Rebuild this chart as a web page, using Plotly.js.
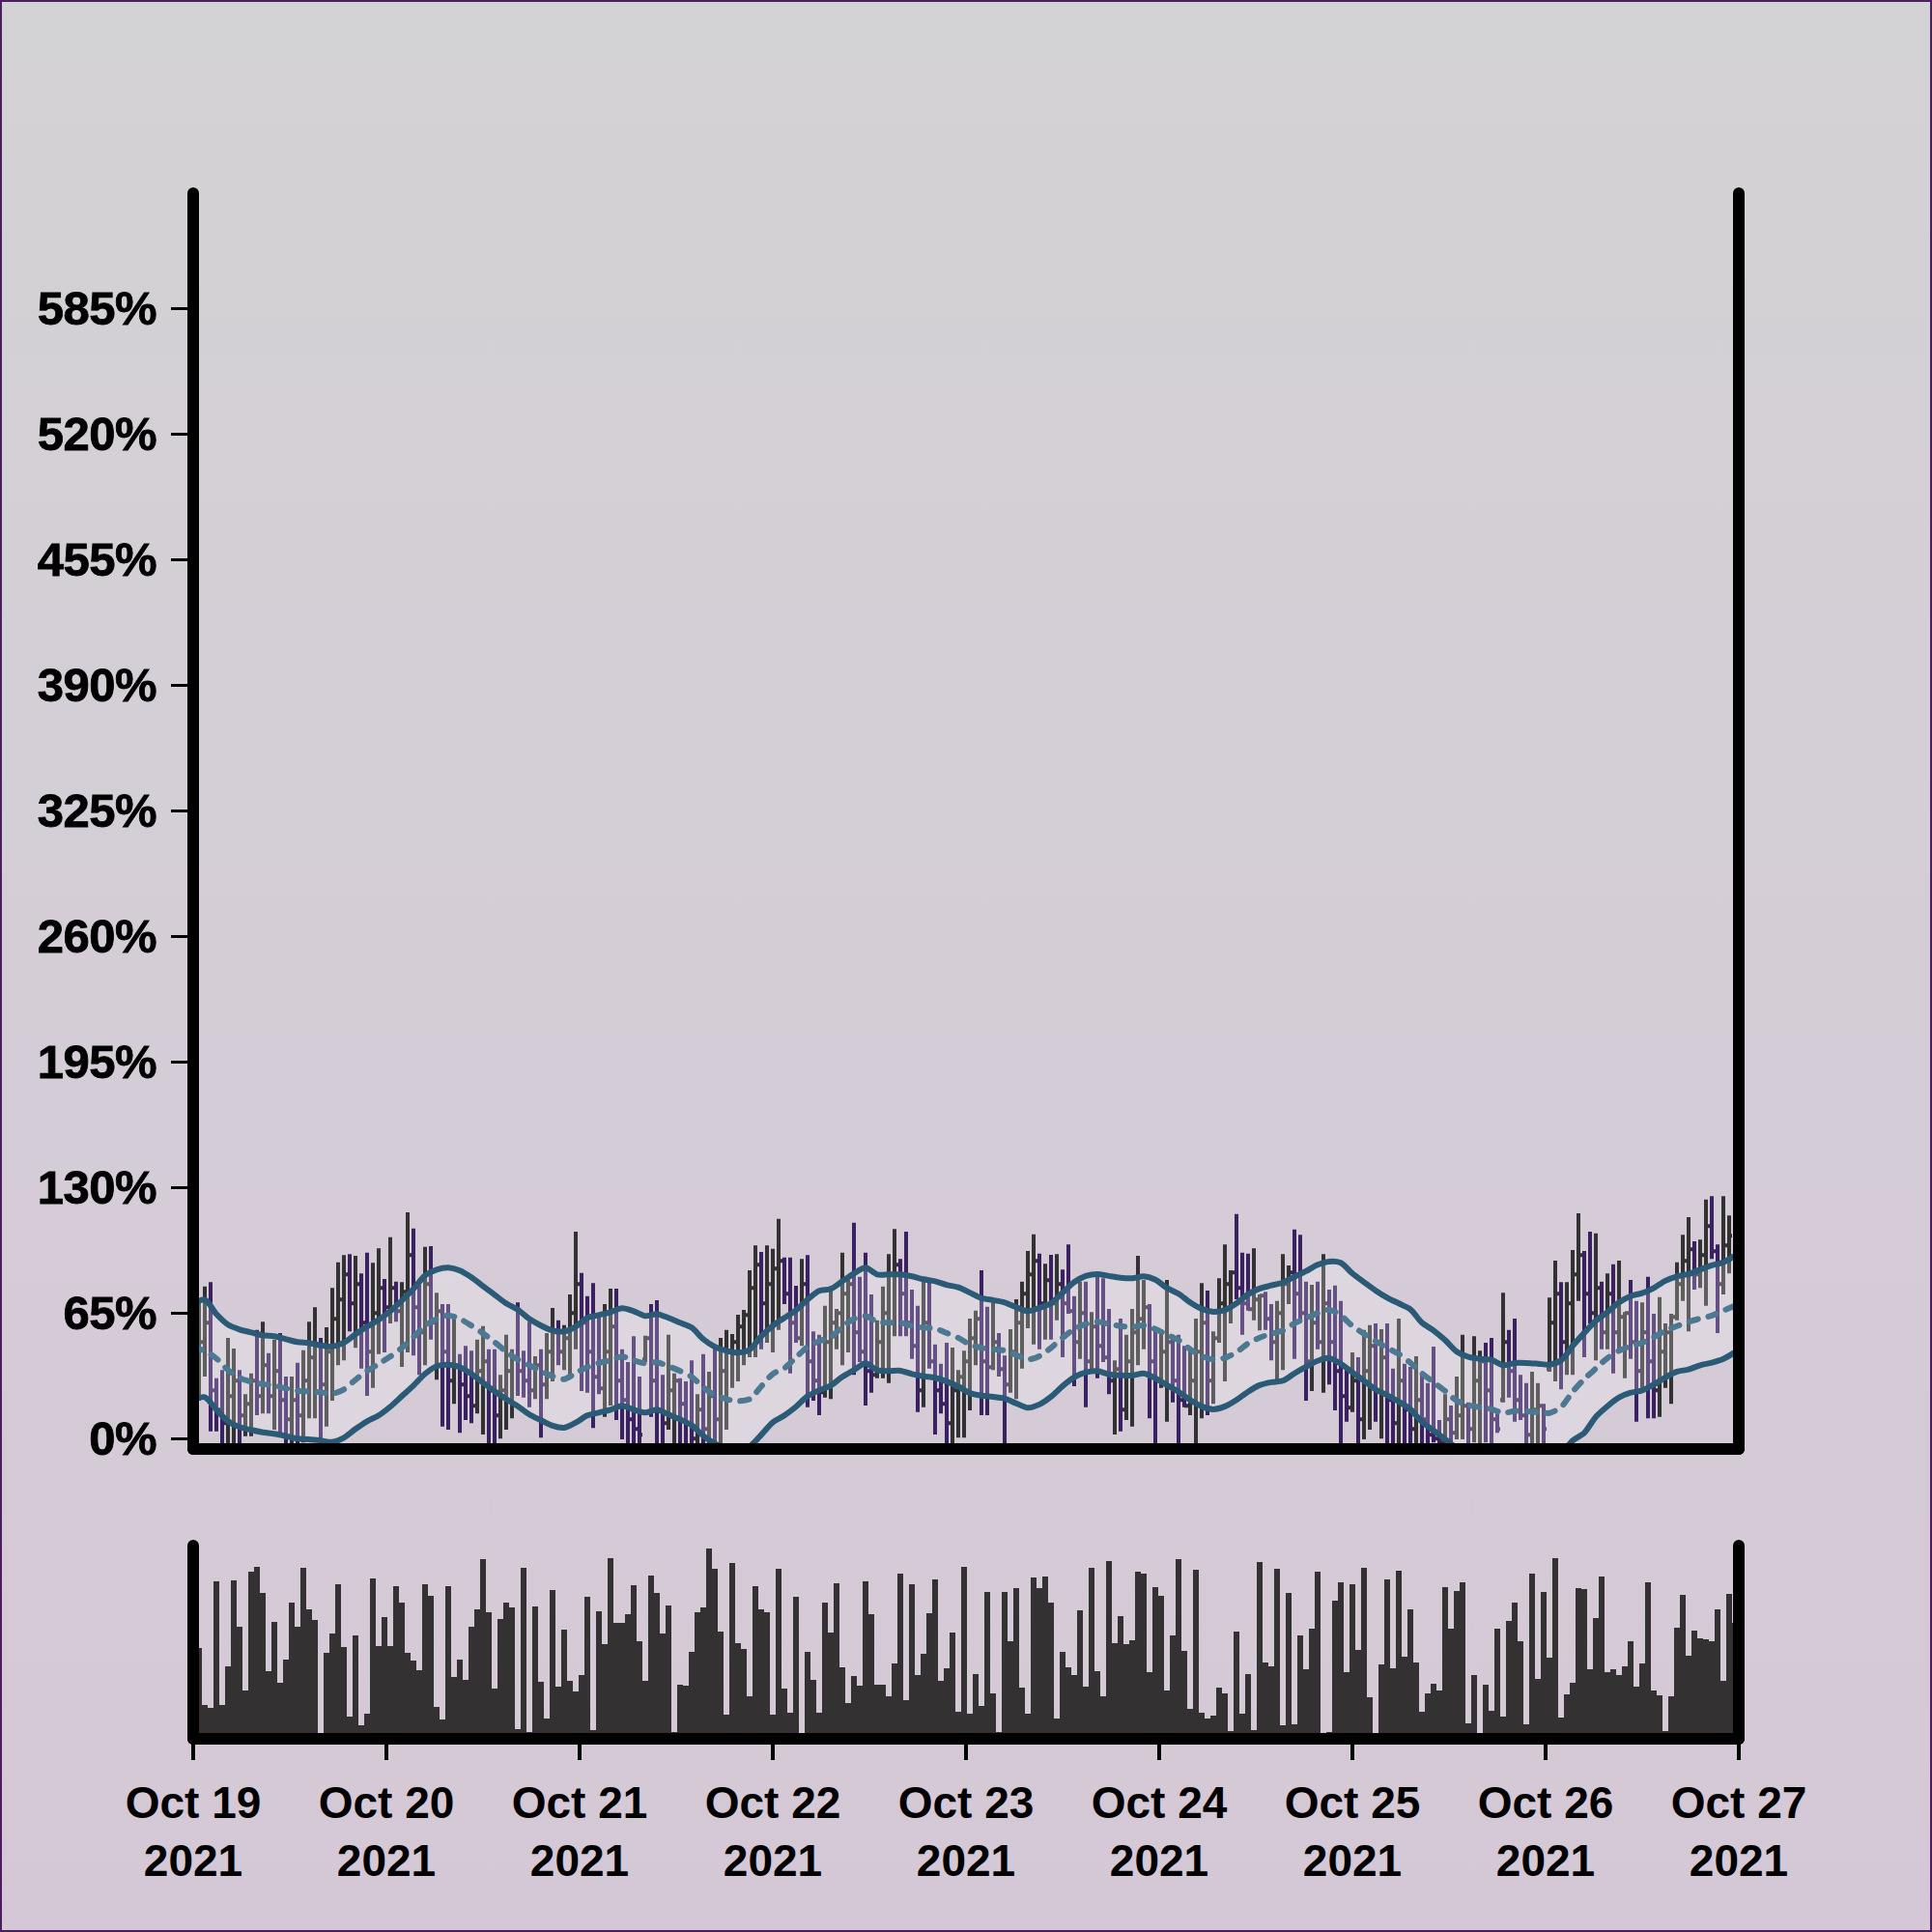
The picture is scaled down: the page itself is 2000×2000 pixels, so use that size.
<!DOCTYPE html>
<html>
<head>
<meta charset="utf-8">
<script src="https://cdn.plot.ly/plotly-3.0.1.min.js"></script>
<style>
  html, body { margin: 0; padding: 0; }
  body { width: 2000px; height: 2000px; background: linear-gradient(to bottom, #d3d2d4 0%, #d4cdd6 50%, #d5c8d6 100%); }
  #chart { width: 2000px; height: 2000px; }
  #frame { position: absolute; left: 0; top: 0; width: 2000px; height: 2000px; box-sizing: border-box; border: 2px solid #4b1f5e; pointer-events: none; }
  .shapelayer path { stroke-linecap: round; }
  .scatterlayer .js-line { stroke-linecap: round; }
  .xtick text, .ytick text { letter-spacing: -0.5px; stroke: #000; stroke-width: 0.8px; }
</style>
</head>
<body>
<div id="chart"></div>
<div id="frame"></div>
<script>
// ---- data ----
const startTime = '2021-10-19T00:00:00Z';
const stepMinutes = 43.2;       // bar spacing
const barCount = 267;

const openVals = [
42,40,50,60,25,15,8,22,30,12, 18,30,22,38,22,35,20,10,20,12,
30,42,48,28,45,62,72,85,70,80, 60,45,65,78,68,78,66,76,95,68,
55,80,60,66,45,30,38,28,22,17, 35,40,25,12,25,35,42,35,30,25,
38,28,45,55,45,52,65,80,60,45, 32,26,45,58,30,20,10,5,41,52,
30,15,8,25,30,18,8,0,15,5, 22,10,35,45,50,58,64,78,90,70,
80,88,92,75,60,52,80,40,30,24, 50,60,65,75,80,55,45,35,33,50,
65,85,90,75,60,48,25,60,40,25, 18,8,25,32,40,52,62,40,37,50,
36,28,45,60,75,85,92,70,82,70, 80,70,66,50,65,40,58,48,42,30,
36,15,40,55,62,68,40,30,45,50, 30,20,17,30,45,60,30,52,70,80,
86,78,70,67,72,74,62,50,65,80, 86,75,65,40,60,50,70,50,35,22,
16,30,10,35,48,25,42,20,8,30, 15,5,20,10,2,0,-2,10,3,12,
17,5,30,40,25,10,20,50,35,20, 12,2,15,17,36,60,75,50,70,85,
95,75,65,78,55,75,55,63,65,50, 35,55,40,25,45,55,63,80,92,98,
85,95,110,97,80,100,94];
const highVals = [
70,71.3,78.8,81,31.3,35.5,52.2,46.6,35.5,23, 33.8,56.3,60.5,44.3,51.3,54.6,32.2,32.2,39.3,45.8,
60.5,68,52.2,57.6,78,91.3,95,95.5,94.6,85.5, 96.3,91,98.5,82.6,104.3,81.3,81,117.2,108.8,79.6,
99.3,99.6,75.5,69.6,69.6,62.2,43.8,48,45.5,51.3, 58.3,46.3,46.3,33,53.8,46.3,70.5,45.5,60.5,42.6,
46.3,54.6,67.6,61.3,58.8,74.7,107.2,85.8,73.8,80.5, 64.7,69.7,77.7,77.7,46.3,39.7,53,32.2,53.3,69.7,
71.7,33,53.8,33.8,31.3,29.7,40.5,23,43.8,34.7, 46.3,52.2,56.3,54.2,64.2,66.7,87.2,100,96.7,100,
98.3,113.8,93.8,93.8,79.2,93,95,55.5,53.8,68.8, 78.8,67.2,96.3,82.2,111.8,83.8,96.3,74.7,61.3,78.8,
95.5,108.5,93,107.2,77.2,68.8,81.3,81.3,48.8,38.8, 49.7,47.2,35.5,45.5,62.2,66.3,87.2,68.3,70.5,54.7,
43,56.7,72.2,81.3,97.2,105.8,95.8,90.5,95.2,95.5, 87.5,100.5,73.8,81.3,81.3,65.5,86.3,83,67.2,40.5,
62.2,53.8,67.2,94.7,82.2,69.7,57.2,56.3,82.2,53.8, 53.8,48,45.5,62.2,80.5,76.7,55.5,83,100.5,87.2,
116.3,96.3,95.8,98.5,74.7,76,69.7,71.3,95.5,89.7, 108.3,105.5,81.3,79.7,81.3,95.5,77.2,79.3,71.3,37.2,
44.7,42.2,56.3,58.8,59.7,56.7,59.7,36.3,62.2,38.8, 37.2,42.7,33,28.8,47.7,9.7,23,17.2,32.2,53.8,
18.8,53,45.5,49.7,52.2,13,75.5,56.3,62.2,33, 28.8,34.7,28.8,18,73,92.2,81,81,97.7,116.7,
97.2,107.2,106.3,81.3,85.5,90.3,92.2,65.5,82.2,71.3, 70.5,83.8,64.7,73.3,59.7,64.7,91.3,105.5,114.7,102.2,
103,123.8,125.5,100.5,125.5,115.5,94.7];
const lowVals = [
20,19.6,32.2,3.8,3.8,-5,-5,-6,-3,1.3, 1.3,12.2,13,13,4.6,3,-4,-3,-5,-2,
10.5,10.5,-0.3,6.3,19.6,38,40.5,55.5,47,36.3, 22.2,26.3,43.8,44.6,59.6,60.5,37.2,44.6,43,33,
38,51.3,30.5,6.3,4.6,18,3,9.6,8,13, 2.2,-4,-3,0,4.6,10.5,22.2,21.3,16.3,20.5,
0.5,20.5,29.6,38,35.5,31.3,46.3,24.7,23.8,5.5, 23,11.3,17.2,9.7,-0.3,-4,-5,-3,39.7,11.3,
-4,-6,4.7,-5,-6,-4,-8,-3,-6,-4, -3,-5,4.7,26.3,29.7,38,42.2,42.2,46.3,49.7,
44.7,56.3,69.7,33.8,49.7,48,16.3,19.7,12.2,21.3, 20.5,46.3,38,44.7,33,39.7,17.2,23.8,31.3,31.3,
28.8,53,53,53,41.3,13.8,16.3,36.3,2.2,13, -4,-4,0.5,0.5,14.7,38,12.2,12.2,35.5,32.2,
-3,23.8,20.5,36.3,57.2,48.8,46.3,51.3,51.3,61.3, 42.2,64.7,27.2,41.3,16.3,34.7,31.3,39.7,23,2.2,
3.8,9.7,6.3,38,46.3,10.5,-6,26.3,8.8,18.8, -5,16.3,12.2,-4,10.5,12.2,18,49.7,29.7,59.7,
72.2,53.8,66.3,61.3,56,56.3,40.5,30.5,35.5,69.7, 41.3,61.3,19.7,24.7,46.3,23.8,28,14.7,-4,8.8,
13.8,-4,-0.3,4.7,8.8,0,-3,-5,-6,-4, -5,-3,-4,-3,-2,-4,-3,-2,-0.3,-0.3,
-4,-2,-3,-2,-3,3,18.8,21.3,8.8,9.7, -3,-4,-4,-3,34.7,29.7,25.5,33,33,71.3,
42.2,59.7,40.5,46.3,46.3,33.8,45.5,31.3,41.3,8.8, 26.3,10.5,10.5,11.3,26.3,18,61.3,71.3,55.5,77.2,
78,68.8,93,54.7,74.7,85.5,26.3];
const closeVals = [
40,50,60,25,15,8,22,30,12,18, 30,22,38,22,35,20,10,20,12,30,
42,48,28,45,62,72,85,70,80,60, 45,65,78,68,78,66,76,95,68,55,
80,60,66,45,30,38,28,22,17,35, 40,25,12,25,35,42,35,30,25,38,
28,45,55,45,52,65,80,60,45,32, 26,45,58,30,20,10,5,2,52,30,
15,8,25,30,18,8,0,15,5,22, 10,35,45,50,58,64,78,90,70,80,
88,92,75,60,52,80,40,30,24,50, 60,65,75,80,55,45,35,33,50,65,
85,90,75,60,48,25,60,40,25,18, 8,25,32,40,52,62,40,37,50,36,
28,45,60,75,85,92,70,82,70,80, 70,66,50,65,40,58,48,42,30,36,
15,40,55,62,68,40,30,45,50,30, 20,17,30,45,60,30,52,70,80,86,
78,70,67,72,74,62,50,65,80,86, 75,65,40,60,50,70,50,35,22,16,
30,10,35,48,25,42,20,8,30,15, 5,20,10,2,0,-2,10,3,12,17,
5,30,40,25,10,5,50,35,20,12, 2,15,17,5,60,75,50,70,85,95,
75,65,78,55,75,55,63,65,50,35, 55,40,25,45,55,63,80,92,98,85,
95,110,97,80,100,105,60];
const volumeVals = [
100,94,35,32,163,35,75,164,116,50, 173,178,151,70,121,58,82,141,116,177,
134,123,2,89,109,160,95,23,107,14, 26,166,96,126,96,158,141,89,81,71,
160,148,33,20,158,64,82,61,116,134, 186,131,52,124,141,136,10,177,7,137,
59,21,154,54,113,60,49,66,147,9, 132,98,187,120,120,129,159,101,60,169,
151,109,138,7,56,55,90,131,136,197, 176,111,25,182,99,93,44,158,134,131,
25,176,52,27,147,2,90,61,27,141, 110,161,74,37,65,55,163,129,56,56,
44,78,171,40,160,66,88,130,165,60, 73,110,28,178,26,67,34,152,47,7,
152,101,156,53,26,167,156,168,141,21, 90,74,66,133,54,177,70,44,184,99,
127,98,102,173,171,69,157,148,50,107, 186,91,31,175,27,21,24,53,47,8,
111,26,67,9,183,79,75,176,14,151, 15,107,72,114,173,2,7,143,162,69,
160,92,177,43,2,77,165,73,174,85, 134,79,28,47,57,50,157,114,153,162,
16,66,2,56,29,114,23,122,141,101, 15,171,62,152,84,187,22,46,58,156,
155,72,125,168,69,72,66,75,101,54, 78,162,50,45,8,44,115,149,86,112,
104,103,101,134,60,150,120];

// Bollinger band, read every second bar
const bandUpper = [
69.6,72,64.5,59,56.5,55,53.5,53,51.5,50, 49.5,48.3,47.7,49.7,54,58,61.5,66,71.5,77.5,
84.5,87.5,88.5,87,83.5,79,74.5,70,66.8,62, 58.5,56,55.5,58,62.5,64,65.5,67.5,66,63.5,
64.5,62.5,60,57.5,51.5,47.5,45.5,44.5,46,53, 58.5,62.5,66.5,72,76.5,77.5,81.5,85.5,88.5,85,
85,85,84,82.5,81.5,79.6,78.3,75.6,72.7,71.7, 70.5,68,66,67.7,70,75.5,81,84.2,85.2,84.2,
83.3,83,84,82.3,78,75,70.5,67.2,65.7,66.6, 70,74.7,77.7,79.3,80.8,83.8,86.7,90,91.7,91,
85.5,81,76.7,73,70,67,60,56,51,45, 42.3,41.3,40.8,38,39.2,39.2,38.8,38.3,40.5,48,
54.7,61,65.5,70.5,73.8,75.3,78,81.7,84,85.2, 87.5,89.7,91.3,94.7];
const bandMid = [
47,45.5,41.5,35.5,31.5,29.5,28.2,27.5,26,24.8, 24.4,24,23.3,25.5,30.5,35,38.7,42.5,47,52.5,
58.5,62,63.8,62,58.5,54.5,50,45,41,38, 35,32.3,30.8,34,37,39.2,40.5,42.5,40.5,39,
39.5,37.5,35,32,26.5,22.5,20.5,19.5,20.5,27, 33.5,36.5,42,47.5,50.5,52.5,58,62,63.5,60.5,
60,60,58.5,57.5,57,54.7,52.2,48.7,47,46.3, 45.6,43.3,41,42.7,47,52.2,56.7,59.3,60.5,59.3,
58.3,57.7,58.7,56.7,53.8,51,46.3,42.7,41,41.8, 44.7,49.3,52.3,54.3,56,59.7,62.3,65,66.7,63.8,
58.3,54.3,50.5,47,43.8,39.3,33.8,29.2,24.7,19.7, 17.3,16.3,15.3,13.3,14.3,14.2,13.7,13.3,16.3,24.3,
30.8,36.3,41.7,45.5,48,49.7,52.5,56,58.3,60.5, 62.2,63.7,66.3,68.8];
const bandLower = [
20,21.5,15,9,6,4.5,3.3,2.5,1.3,0, -0.3,-1,-1.7,0.5,5,9,12,16.5,22,27.5,
33.5,37.5,38.3,37,33.5,29,24.5,20.5,16.8,12.5, 9.5,6.7,5.7,8.3,12,13.5,15,17,15,13.5,
15,12.5,10,7,1.5,-2.5,-5,-6,-4,2, 8.5,12,16.5,22,25,27.5,32,35.5,39,35.5,
35,35.2,33.5,32.3,31.5,29.6,27,23.6,22.3,21.7, 20.8,18.3,16,17.7,21.7,27.2,31.8,34.3,35,33.3,
32.8,32.7,33.8,31.3,27.7,24.3,20,16.7,15.2,16.7, 20,24.3,27.7,29.2,30,33.8,37.2,40.3,41.7,38.8,
34.3,30,25.5,22.5,19.2,15.2,8.8,4.2,-0.3,-5, -8,-9,-10,-12,-11,-11,-11.5,-12,-8,-1,
3,11.3,16.8,21.3,23.8,25,28,31.7,34.7,35.8, 38,39.3,41.3,44.7];

const yTickStep = 65;

// ---- build ----
const t0 = new Date(startTime).getTime();
function fmt(ms) { return new Date(ms).toISOString().slice(0, 19).replace('T', ' '); }
const dates = [];
for (let i = 0; i < barCount; i++) dates.push(fmt(t0 + i * stepMinutes * 60000));
const bandDates = dates.filter((d, i) => i % 2 === 0);

const incColor = '#323232';
const decColor = '#3a2160';
const bandColor = '#2b5a76';
const midColor = '#4d7891';

const traces = [
  {
    type: 'ohlc', x: dates, open: openVals, high: highVals, low: lowVals, close: closeVals,
    xaxis: 'x', yaxis: 'y', tickwidth: 0.5, hoverinfo: 'skip',
    increasing: { line: { color: incColor, width: 4 } },
    decreasing: { line: { color: decColor, width: 4 } }
  },
  {
    type: 'scatter', mode: 'lines', x: bandDates, y: bandUpper, xaxis: 'x', yaxis: 'y',
    line: { color: bandColor, width: 6, shape: 'spline', smoothing: 0.8 }, hoverinfo: 'skip'
  },
  {
    type: 'scatter', mode: 'lines', x: bandDates, y: bandLower, xaxis: 'x', yaxis: 'y',
    fill: 'tonexty', fillcolor: 'rgba(255,255,255,0.22)',
    line: { color: bandColor, width: 6, shape: 'spline', smoothing: 0.8 }, hoverinfo: 'skip'
  },
  {
    type: 'scatter', mode: 'lines', x: bandDates, y: bandMid, xaxis: 'x', yaxis: 'y',
    line: { color: midColor, width: 6, dash: '9px,11px', shape: 'spline', smoothing: 0.8 }, hoverinfo: 'skip'
  },
  {
    type: 'bar', x: dates, y: volumeVals, xaxis: 'x2', yaxis: 'y2',
    marker: { color: '#333132', line: { width: 0 } }, hoverinfo: 'skip'
  }
];

const xFont = { family: 'Liberation Sans, Arial, sans-serif', size: 46, color: '#000', weight: 'bold' };
const yFont = { family: 'Liberation Sans, Arial, sans-serif', size: 49, color: '#000', weight: 'bold' };
const xRange = ['2021-10-19 00:00:00', '2021-10-27 00:00:00'];

const frame = { type: 'line', xref: 'paper', yref: 'paper', layer: 'above', line: { color: '#000', width: 12 } };
const shapes = [
  Object.assign({}, frame, { x0: 0, x1: 0, y0: 0.1875, y1: 1 }),
  Object.assign({}, frame, { x0: 1, x1: 1, y0: 0.1875, y1: 1 }),
  Object.assign({}, frame, { x0: 0, x1: 1, y0: 0.1875, y1: 0.1875 }),
  Object.assign({}, frame, { x0: 0, x1: 0, y0: 0, y1: 0.125 }),
  Object.assign({}, frame, { x0: 1, x1: 1, y0: 0, y1: 0.125 }),
  Object.assign({}, frame, { x0: 0, x1: 1, y0: 0, y1: 0 })
];

const layout = {
  width: 2000, height: 2000,
  margin: { l: 200, r: 200, t: 200, b: 200 },
  paper_bgcolor: 'rgba(0,0,0,0)', plot_bgcolor: 'rgba(0,0,0,0)',
  showlegend: false, bargap: 0,
  shapes: shapes,
  xaxis: {
    domain: [0, 1], anchor: 'y', type: 'date', range: xRange,
    rangeslider: { visible: false },
    showline: false, showgrid: false, zeroline: false, ticks: '', showticklabels: false
  },
  yaxis: {
    domain: [0.1875, 1], anchor: 'x', range: [-5.35, 644.65],
    tick0: 0, dtick: yTickStep, ticksuffix: '%',
    showline: false, showgrid: false, zeroline: false,
    ticks: 'outside', ticklen: 22, tickwidth: 3, tickcolor: '#000',
    ticklabelstandoff: 5,
    tickfont: yFont
  },
  xaxis2: {
    domain: [0, 1], anchor: 'y2', matches: 'x', type: 'date', range: xRange,
    showline: false, showgrid: false, zeroline: false,
    ticks: 'outside', ticklen: 21, tickwidth: 4, tickcolor: '#000',
    ticklabelstandoff: 5,
    tick0: '2021-10-19', dtick: 86400000, tickformat: '%b %d<br>%Y',
    tickfont: xFont
  },
  yaxis2: {
    domain: [0, 0.125], anchor: 'x2', range: [0, 200],
    showline: false, showgrid: false, zeroline: false, ticks: '', showticklabels: false
  }
};

Plotly.newPlot('chart', traces, layout, { staticPlot: true, displayModeBar: false });
</script>
</body>
</html>
